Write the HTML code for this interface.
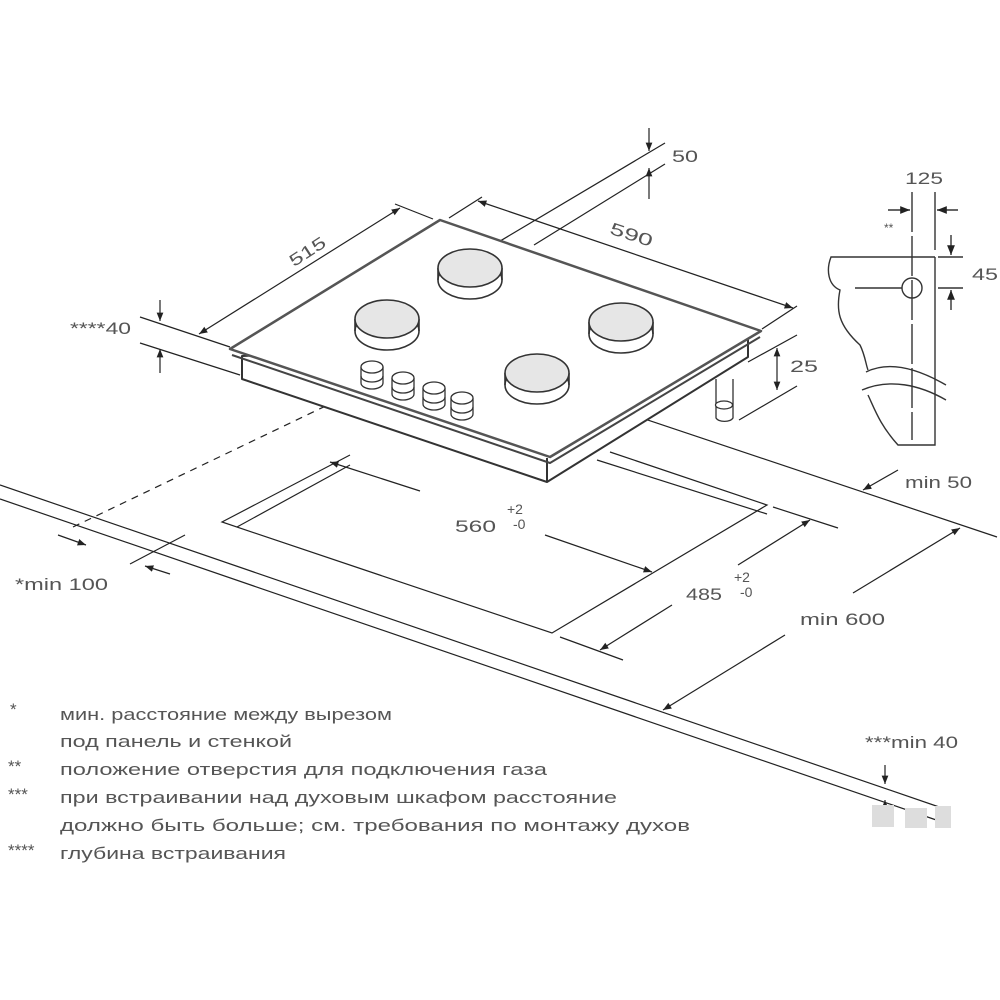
<!DOCTYPE html>
<html><head><meta charset="utf-8"><style>
html,body{margin:0;padding:0;background:#fff}
svg{display:block}
text{font-family:"Liberation Sans",sans-serif;fill:#555}
</style></head><body>
<svg width="1000" height="1000" viewBox="0 0 1000 1000" xmlns="http://www.w3.org/2000/svg">
<defs>
<marker id="a" viewBox="0 0 10 10" refX="10" refY="5" markerWidth="7" markerHeight="7" orient="auto-start-reverse"><path d="M0,1 L10,5 L0,9 z" fill="#222"/></marker>
</defs>
<g stroke="#222" stroke-width="1.2" fill="none">
<line x1="0" y1="485" x2="945" y2="809"/>
<line x1="0" y1="499" x2="945" y2="823"/>
<line x1="600" y1="404" x2="997" y2="537"/>
<line x1="73" y1="527" x2="380" y2="380" stroke-dasharray="7,6"/>
<polyline points="350,455 222,522 552,633 767,505 610,452"/>
<line x1="237" y1="527" x2="350" y2="465"/>
<line x1="597" y1="460" x2="767" y2="514"/>
<line x1="773" y1="507" x2="838" y2="528"/>
<line x1="560" y1="637" x2="623" y2="660"/>
<line x1="330" y1="462" x2="420" y2="491" marker-start="url(#a)"/>
<line x1="545" y1="535" x2="652" y2="572" marker-end="url(#a)"/>
<line x1="738" y1="565" x2="810" y2="520" marker-end="url(#a)"/>
<line x1="672" y1="605" x2="600" y2="650" marker-end="url(#a)"/>
<line x1="853" y1="593" x2="960" y2="528" marker-end="url(#a)"/>
<line x1="785" y1="635" x2="663" y2="710" marker-end="url(#a)"/>
<line x1="898" y1="470" x2="863" y2="490" marker-end="url(#a)"/>
<line x1="58" y1="535" x2="86" y2="545" marker-end="url(#a)"/>
<line x1="170" y1="574" x2="145" y2="566" marker-end="url(#a)"/>
<line x1="130" y1="564" x2="185" y2="535"/>
<line x1="885" y1="765" x2="885" y2="784" marker-end="url(#a)"/>
<line x1="885" y1="815" x2="885" y2="800" marker-end="url(#a)"/>
<line x1="140" y1="317" x2="230" y2="347"/>
<line x1="140" y1="343" x2="240" y2="375"/>
<line x1="160" y1="300" x2="160" y2="321" marker-end="url(#a)"/>
<line x1="160" y1="373" x2="160" y2="349" marker-end="url(#a)"/>
<line x1="199" y1="334" x2="400" y2="208" marker-start="url(#a)" marker-end="url(#a)"/>
<line x1="395" y1="204" x2="433" y2="219"/>
<line x1="478" y1="201" x2="793" y2="308" marker-start="url(#a)" marker-end="url(#a)"/>
<line x1="449" y1="218" x2="482" y2="197"/>
<line x1="762" y1="329" x2="797" y2="306"/>
<line x1="480" y1="253" x2="665" y2="143"/>
<line x1="534" y1="245" x2="665" y2="164"/>
<line x1="649" y1="128" x2="649" y2="151" marker-end="url(#a)"/>
<line x1="649" y1="199" x2="649" y2="168" marker-end="url(#a)"/>
<line x1="748" y1="362" x2="797" y2="335"/>
<line x1="739" y1="420" x2="797" y2="386"/>
<line x1="777" y1="348" x2="777" y2="390" marker-start="url(#a)" marker-end="url(#a)"/>
</g>
<g stroke="#333" stroke-width="2" fill="#fff" stroke-linejoin="round">
<polygon points="242,356 748,335 748,357 547,482 242,379"/>
<line x1="547" y1="458" x2="547" y2="482"/>
<polygon points="230,349 440,220 761,331 550,457" fill="#fff" stroke="#555" stroke-width="2.5"/>
<polyline points="232,355 550,463 760,337" fill="none" stroke="#444"/>
</g>
<g stroke="#333" stroke-width="1.3" fill="#fff">
<path d="M716,379 V418 A9,5 0 0 0 733,418 V379"/>
<ellipse cx="724" cy="405" rx="8.5" ry="4"/>
</g>
<g stroke="#333" stroke-width="1.6">
<g transform="translate(470,268)"><ellipse cx="0" cy="12" rx="32" ry="19" fill="#fff"/><path d="M-32,0 V12 M32,0 V12" /><ellipse cx="0" cy="0" rx="32" ry="19" fill="#e6e6e6"/></g>
<g transform="translate(387,319)"><ellipse cx="0" cy="12" rx="32" ry="19" fill="#fff"/><path d="M-32,0 V12 M32,0 V12"/><ellipse cx="0" cy="0" rx="32" ry="19" fill="#e6e6e6"/></g>
<g transform="translate(621,322)"><ellipse cx="0" cy="12" rx="32" ry="19" fill="#fff"/><path d="M-32,0 V12 M32,0 V12"/><ellipse cx="0" cy="0" rx="32" ry="19" fill="#e6e6e6"/></g>
<g transform="translate(537,373)"><ellipse cx="0" cy="12" rx="32" ry="19" fill="#fff"/><path d="M-32,0 V12 M32,0 V12"/><ellipse cx="0" cy="0" rx="32" ry="19" fill="#e6e6e6"/></g>
</g>
<g stroke="#333" stroke-width="1.3" fill="#fff">
<g transform="translate(372,367)"><path d="M-11,0 V16 A11,6 0 0 0 11,16 V0"/><ellipse cx="0" cy="0" rx="11" ry="6"/><path d="M-11,9 A11,6 0 0 0 11,9" fill="none"/></g>
<g transform="translate(403,378)"><path d="M-11,0 V16 A11,6 0 0 0 11,16 V0"/><ellipse cx="0" cy="0" rx="11" ry="6"/><path d="M-11,9 A11,6 0 0 0 11,9" fill="none"/></g>
<g transform="translate(434,388)"><path d="M-11,0 V16 A11,6 0 0 0 11,16 V0"/><ellipse cx="0" cy="0" rx="11" ry="6"/><path d="M-11,9 A11,6 0 0 0 11,9" fill="none"/></g>
<g transform="translate(462,398)"><path d="M-11,0 V16 A11,6 0 0 0 11,16 V0"/><ellipse cx="0" cy="0" rx="11" ry="6"/><path d="M-11,9 A11,6 0 0 0 11,9" fill="none"/></g>
</g>
<g stroke="#333" stroke-width="1.4" fill="none">
<path d="M935,257 H831 C826,270 828,285 840,290 C836,310 838,325 860,345 C865,355 866,365 868,370"/>
<path d="M868,395 C875,410 880,425 898,445 H935 V257"/>
<path d="M866,372 C890,360 920,370 946,385"/>
<path d="M862,390 C890,378 920,385 946,400"/>
<circle cx="912" cy="288" r="10"/>
<line x1="912" y1="192" x2="912" y2="440" stroke-dasharray="40,4"/>
<line x1="855" y1="288" x2="902" y2="288"/>
<line x1="935" y1="192" x2="935" y2="250"/>
<line x1="888" y1="210" x2="910" y2="210" marker-end="url(#a)"/>
<line x1="958" y1="210" x2="937" y2="210" marker-end="url(#a)"/>
<line x1="938" y1="257" x2="963" y2="257"/>
<line x1="938" y1="288" x2="963" y2="288"/>
<line x1="951" y1="235" x2="951" y2="255" marker-end="url(#a)"/>
<line x1="951" y1="310" x2="951" y2="290" marker-end="url(#a)"/>
</g>
<g font-size="17" lengthAdjust="spacingAndGlyphs">
<text x="672" y="162" textLength="26" lengthAdjust="spacingAndGlyphs">50</text>
<text x="609" y="240" textLength="44" lengthAdjust="spacingAndGlyphs" transform="rotate(18 630 236)">590</text>
<text x="287" y="258" textLength="40" lengthAdjust="spacingAndGlyphs" transform="rotate(-33 306 251)">515</text>
<text x="70" y="334" textLength="61" lengthAdjust="spacingAndGlyphs">****40</text>
<text x="790" y="372" textLength="28" lengthAdjust="spacingAndGlyphs">25</text>
<text x="905" y="184" textLength="38" lengthAdjust="spacingAndGlyphs">125</text>
<text x="884" y="232" font-size="12">**</text>
<text x="972" y="280" textLength="26" lengthAdjust="spacingAndGlyphs">45</text>
<text x="905" y="488" textLength="67" lengthAdjust="spacingAndGlyphs">min 50</text>
<text x="455" y="532" textLength="41" lengthAdjust="spacingAndGlyphs">560</text>
<text x="507" y="514" font-size="14">+2</text>
<text x="513" y="529" font-size="14">-0</text>
<text x="686" y="600" textLength="36" lengthAdjust="spacingAndGlyphs">485</text>
<text x="734" y="582" font-size="14">+2</text>
<text x="740" y="597" font-size="14">-0</text>
<text x="800" y="625" textLength="85" lengthAdjust="spacingAndGlyphs">min 600</text>
<text x="15" y="590" textLength="93" lengthAdjust="spacingAndGlyphs">*min 100</text>
<text x="865" y="748" textLength="93" lengthAdjust="spacingAndGlyphs">***min 40</text>
</g>
<g font-size="17">
<text x="10" y="715">*</text><text x="60" y="720" textLength="332" lengthAdjust="spacingAndGlyphs">мин. расстояние между вырезом</text>
<text x="60" y="747" textLength="232" lengthAdjust="spacingAndGlyphs">под панель и стенкой</text>
<text x="8" y="772">**</text><text x="60" y="775" textLength="487" lengthAdjust="spacingAndGlyphs">положение отверстия для подключения газа</text>
<text x="8" y="800">***</text><text x="60" y="803" textLength="557" lengthAdjust="spacingAndGlyphs">при встраивании над духовым шкафом расстояние</text>
<text x="60" y="831" textLength="630" lengthAdjust="spacingAndGlyphs">должно быть больше; см. требования по монтажу духов</text>
<text x="8" y="856">****</text><text x="60" y="859" textLength="226" lengthAdjust="spacingAndGlyphs">глубина встраивания</text>
</g>
<g fill="#ddd"><rect x="872" y="805" width="22" height="22"/><rect x="905" y="808" width="22" height="20"/><rect x="935" y="806" width="16" height="22"/></g>
</svg>
</body></html>
